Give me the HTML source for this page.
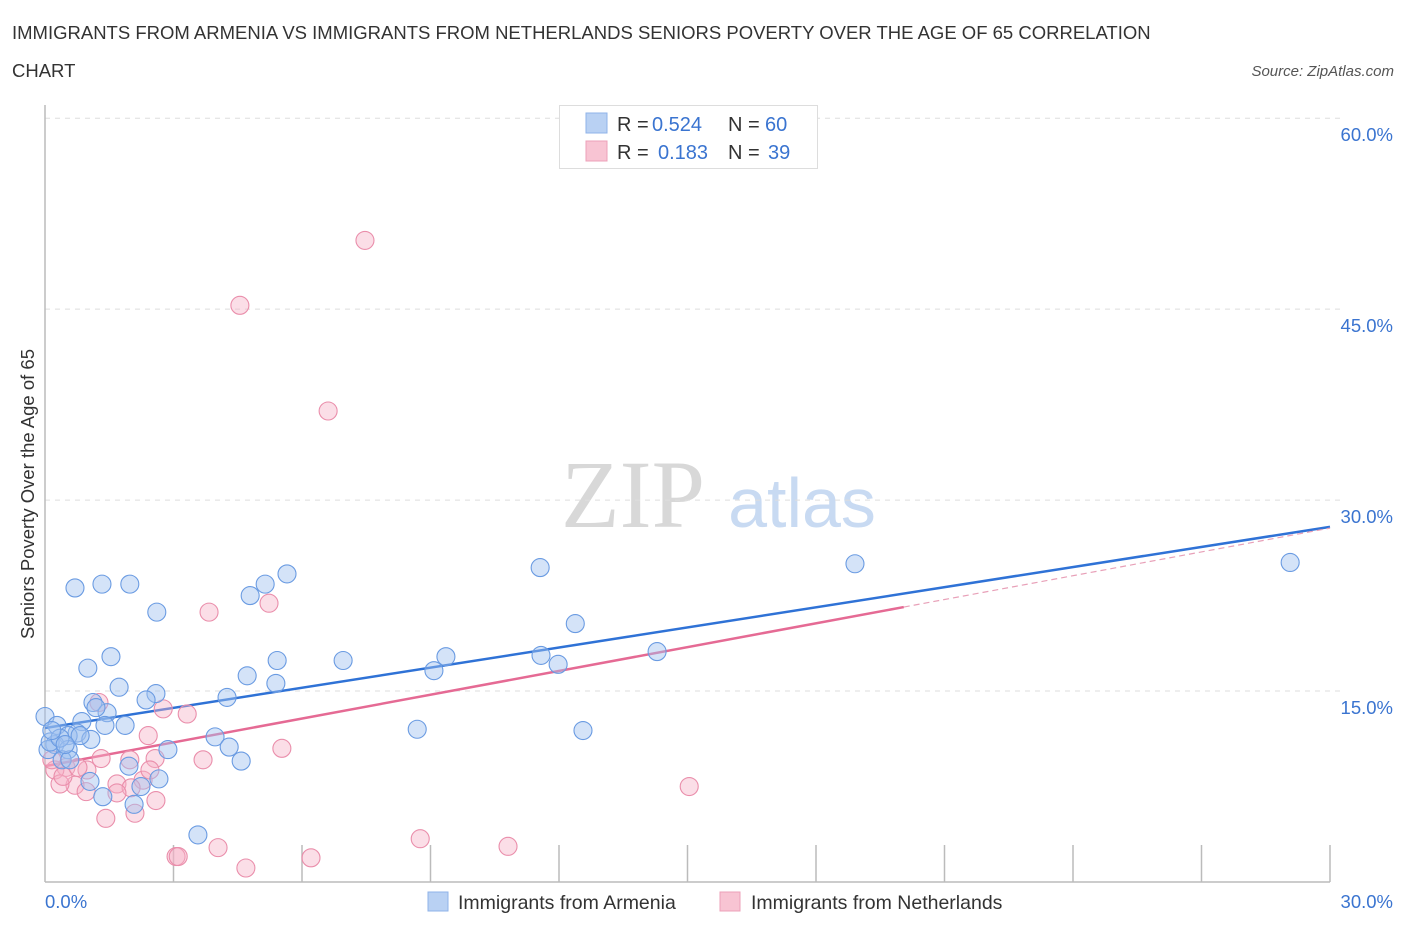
<!DOCTYPE html>
<html><head><meta charset="utf-8">
<style>
body{margin:0;background:#fff;font-family:"Liberation Sans",sans-serif;}
svg text{font-family:"Liberation Sans",sans-serif;}
</style></head>
<body>
<svg id="chart" width="1406" height="930" xmlns="http://www.w3.org/2000/svg">
<text x="12" y="39" font-size="18.5" fill="#333">IMMIGRANTS FROM ARMENIA VS IMMIGRANTS FROM NETHERLANDS SENIORS POVERTY OVER THE AGE OF 65 CORRELATION</text>
<text x="12" y="77" font-size="18.5" fill="#333">CHART</text>
<text x="1394" y="76" font-size="15" fill="#555" font-style="italic" text-anchor="end">Source: ZipAtlas.com</text>
<text x="34" y="494" font-size="18.5" fill="#333" text-anchor="middle" transform="rotate(-90 34 494)">Seniors Poverty Over the Age of 65</text>
<text x="633" y="527" font-size="96" fill="#d8d8d8" text-anchor="middle" style="font-family:'Liberation Serif',serif">ZIP</text>
<text x="802" y="527" font-size="70" fill="#c8daf2" text-anchor="middle">atlas</text>
<g id="grid"></g><g id="axes"></g><g id="lines"></g><g id="pts"></g>
<g>
<rect x="559.5" y="105.5" width="258" height="63" fill="#fff" stroke="#ddd"/>
<rect x="586" y="113" width="21" height="20" fill="#b9d1f3" stroke="#8fb3e8"/>
<rect x="586" y="141" width="21" height="20" fill="#f8c4d3" stroke="#eda0b8"/>
<text x="617" y="131" font-size="20" fill="#333">R = </text><text x="652" y="131" font-size="20" fill="#3a74d0">0.524</text>
<text x="728" y="131" font-size="20" fill="#333">N = </text><text x="765" y="131" font-size="20" fill="#3a74d0">60</text>
<text x="617" y="159" font-size="20" fill="#333">R = </text><text x="658" y="159" font-size="20" fill="#3a74d0">0.183</text>
<text x="728" y="159" font-size="20" fill="#333">N = </text><text x="768" y="159" font-size="20" fill="#3a74d0">39</text>
</g>
<g>
<rect x="428" y="892" width="20" height="19" fill="#b9d1f3" stroke="#8fb3e8"/>
<text x="458" y="909" font-size="19.5" fill="#333">Immigrants from Armenia</text>
<rect x="720" y="892" width="20" height="19" fill="#f8c4d3" stroke="#eda0b8"/>
<text x="751" y="909" font-size="19.5" fill="#333">Immigrants from Netherlands</text>
</g>
</svg>
<script>
const blueX=[0.70,1.33,1.98,2.61,4.79,5.14,5.65,11.56,18.91,29.07,12.38,1.54,1.00,5.42,6.96,9.36,11.58,11.98,14.29,9.08,1.73,2.59,4.72,5.39,1.12,2.36,4.25,1.45,1.19,0.0,0.28,0.86,1.87,1.40,0.75,0.54,1.07,3.97,4.30,2.87,8.69,12.56,0.23,0.07,0.54,0.40,0.58,4.58,1.96,1.05,2.24,2.66,1.35,2.08,3.57,0.12,0.35,0.82,0.47,0.16];
const blueY=[23.1,23.4,23.4,21.2,22.5,23.4,24.2,24.7,25.0,25.1,20.3,17.7,16.8,17.4,17.4,17.7,17.8,17.1,18.1,16.6,15.3,14.8,16.2,15.6,14.1,14.3,14.5,13.3,13.7,13.0,12.3,12.6,12.3,12.3,11.7,11.5,11.2,11.4,10.6,10.4,12.0,11.9,10.8,10.4,10.4,9.6,9.6,9.5,9.1,7.9,7.5,8.1,6.7,6.1,3.7,11.0,11.3,11.5,10.8,11.9];
const pinkX=[7.47,4.55,6.61,3.83,5.23,3.32,2.76,2.41,5.53,3.69,1.26,1.31,1.98,2.57,0.49,0.23,0.98,1.68,0.70,0.35,2.29,2.01,2.45,1.68,0.96,2.59,2.10,1.42,3.06,3.11,4.04,4.69,6.21,8.76,10.81,15.04,0.16,0.42,0.77];
const pinkY=[50.4,45.3,37.0,21.2,21.9,13.2,13.6,11.5,10.5,9.6,14.1,9.7,9.6,9.7,9.0,8.8,8.8,7.7,7.6,7.7,8.0,7.4,8.8,7.0,7.1,6.4,5.4,5.0,2.0,2.0,2.7,1.1,1.9,3.4,2.8,7.5,9.6,8.3,9.0];
const yTicks=[15,30,45,60];
const yTickLabels=["15.0%","30.0%","45.0%","60.0%"];
const xTicks=[3,6,9,12,15,18,21,24,27,30];
const blueTrend=[12.1,27.9];
const pinkTrend=[9.1,27.8];
const pinkSolidEnd=20.05;

const NS="http://www.w3.org/2000/svg";
const X=v=>45+v*(1285/30);
const Y=v=>882-v*12.73;
function mk(tag,attrs,parent){const e=document.createElementNS(NS,tag);for(const k in attrs)e.setAttribute(k,attrs[k]);document.getElementById(parent).appendChild(e);return e;}
yTicks.forEach((t,i)=>{
 const l=mk('line',{x1:45,x2:1340,y1:Y(t),y2:Y(t),stroke:'#ddd','stroke-dasharray':'5,5'},'grid');
 
 
 const tx=mk('text',{x:1393,y:Y(t)+23,'font-size':18.5,fill:'#3a74d0','text-anchor':'end'},'grid');
 tx.textContent=yTickLabels[i];
 
 
});
const ax=mk('line',{x1:45,x2:45,y1:105,y2:882,stroke:'#bbb','stroke-width':1.5},'axes');


const bx=mk('line',{x1:45,x2:1330,y1:882,y2:882,stroke:'#bbb','stroke-width':1.5},'axes');


xTicks.forEach(t=>{
 const l=mk('line',{x1:X(t),x2:X(t),y1:845,y2:882,stroke:'#bbb','stroke-width':1.5},'axes');
 
 
});
const xl0=mk('text',{x:45,y:908,'font-size':18.5,fill:'#3a74d0'},'axes');xl0.textContent='0.0%';


const xl1=mk('text',{x:1393,y:908,'font-size':18.5,fill:'#3a74d0','text-anchor':'end'},'axes');xl1.textContent='30.0%';


function dots(xs,ys,fill,stroke,name){xs.forEach((x,i)=>{
 const c=mk('circle',{cx:X(x),cy:Y(ys[i]),r:9,fill:fill,stroke:stroke,'stroke-width':1.1},'pts');
 
 
});}
dots(pinkX,pinkY,'rgba(246,176,198,0.42)','#ea8eab','netherlands-point');
dots(blueX,blueY,'rgba(160,194,240,0.45)','#6a9be2','armenia-point');
const bl=mk('line',{x1:X(0),y1:Y(blueTrend[0]),x2:X(30),y2:Y(blueTrend[1]),stroke:'#2f72d6','stroke-width':2.5},'lines');


const pm=v=>pinkTrend[0]+(pinkTrend[1]-pinkTrend[0])*v/30;
const pl=mk('line',{x1:X(0),y1:Y(pinkTrend[0]),x2:X(pinkSolidEnd),y2:Y(pm(pinkSolidEnd)),stroke:'#e56a94','stroke-width':2.5},'lines');


const pd=mk('line',{x1:X(pinkSolidEnd),y1:Y(pm(pinkSolidEnd)),x2:X(30),y2:Y(pinkTrend[1]),stroke:'#e8a0b8','stroke-width':1.2,'stroke-dasharray':'6,4'},'lines');


</script>
</body></html>
